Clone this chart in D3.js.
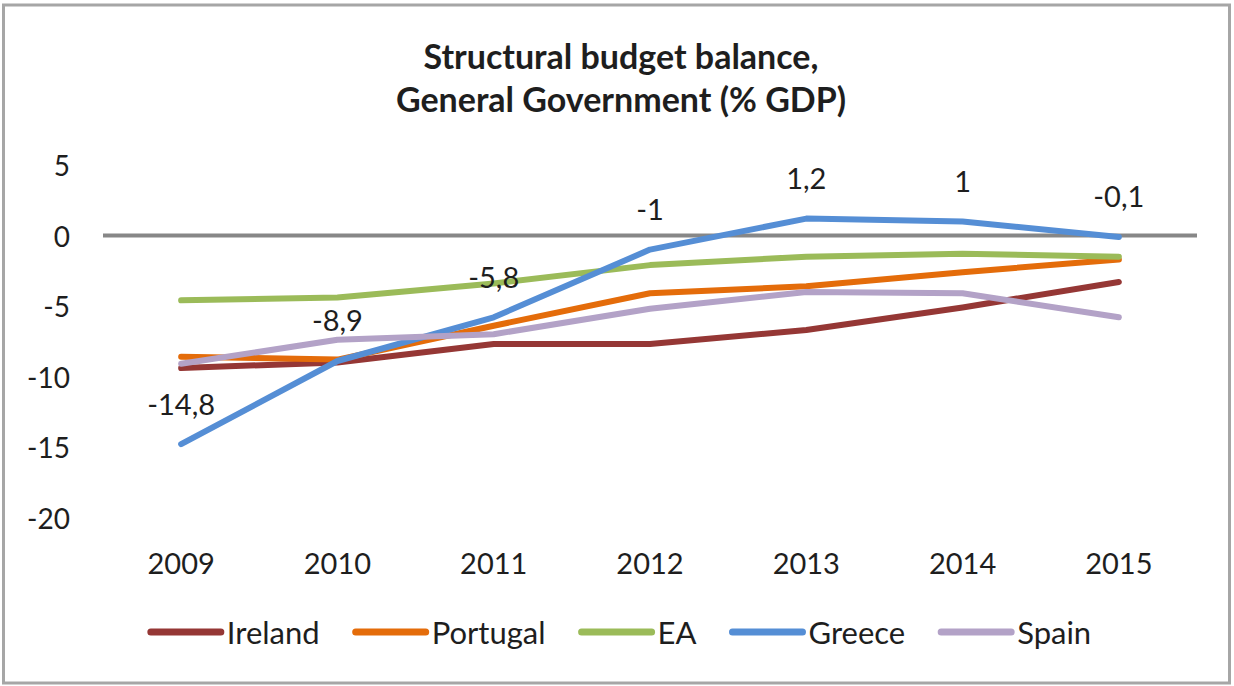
<!DOCTYPE html>
<html>
<head>
<meta charset="utf-8">
<script src="https://cdn.jsdelivr.net/npm/d3@7"></script>
<style>
  html, body { margin: 0; padding: 0; background: #fff; }
  svg { display: block; }
  text { font-family: Lato, "Open Sans", sans-serif; fill: #1e1e1e; }
</style>
</head>
<body>
<svg id="chart" width="1234" height="686"></svg>
<script>
// Structural budget balance, general government (% of GDP)
const years = ["2009", "2010", "2011", "2012", "2013", "2014", "2015"];
const ireland  = [-9.4, -9.0, -7.7, -7.7, -6.7, -5.1, -3.3];
const portugal = [-8.6, -8.8, -6.4, -4.1, -3.6, -2.6, -1.7];
const ea       = [-4.6, -4.4, -3.4, -2.1, -1.5, -1.3, -1.5];
const greece   = [-14.8, -8.9, -5.8, -1, 1.2, 1, -0.1];
const spain    = [-9.1, -7.4, -7.0, -5.2, -4.0, -4.1, -5.8];
const yTicks = [5, 0, -5, -10, -15, -20];

const series = [
  { name: "Ireland",  values: ireland,  color: "#953735" },
  { name: "Portugal", values: portugal, color: "#E46C0A" },
  { name: "EA",       values: ea,       color: "#9BBB59" },
  { name: "Greece",   values: greece,   color: "#558ED5" },
  { name: "Spain",    values: spain,    color: "#B3A2C7" }
];
// Greece values are annotated on the chart
const labelled = "Greece";

const svg = d3.select("#chart");

// outer frame
svg.append("rect")
  .attr("x", 3.5).attr("y", 5).attr("width", 1226).attr("height", 678)
  .attr("fill", "#fff").attr("stroke", "#a6a6a6").attr("stroke-width", 3);

// title
const title = svg.append("text")
  .attr("text-anchor", "middle")
  .style("font-weight", "bold").style("font-size", "34px");
title.append("tspan").attr("x", 621).attr("y", 69).text("Structural budget balance,");
title.append("tspan").attr("x", 621).attr("y", 112).text("General Government (% GDP)");

const x = d3.scaleBand().domain(years).range([103, 1197]);
const y = d3.scaleLinear().domain([-20, 5]).range([517.5, 165]);
const cx = d => x(d) + x.bandwidth() / 2;

// y tick labels
svg.append("g").selectAll("text")
  .data(yTicks).join("text")
  .attr("x", 70).attr("y", d => y(d))
  .attr("text-anchor", "end").attr("dominant-baseline", "central")
  .style("font-size", "28px")
  .text(d => d);

// x tick labels
svg.append("g").selectAll("text")
  .data(years).join("text")
  .attr("x", d => cx(d)).attr("y", 562)
  .attr("text-anchor", "middle").attr("dominant-baseline", "central")
  .style("font-size", "29px")
  .text(d => d);

// horizontal axis at zero
svg.append("line")
  .attr("x1", x.range()[0]).attr("x2", x.range()[1])
  .attr("y1", y(0)).attr("y2", y(0))
  .attr("stroke", "#878787").attr("stroke-width", 4);

const line = d3.line()
  .x((d, i) => cx(years[i]))
  .y(d => y(d));

svg.append("g").selectAll("path")
  .data(series).join("path")
  .attr("d", d => line(d.values))
  .attr("fill", "none")
  .attr("stroke", d => d.color)
  .attr("stroke-width", 6)
  .attr("stroke-linecap", "round")
  .attr("stroke-linejoin", "round");

// value labels
const fmt = v => String(v).replace(".", ",");
const lab = series.find(s => s.name === labelled);
svg.append("g").selectAll("text")
  .data(lab.values).join("text")
  .attr("x", (d, i) => cx(years[i]))
  .attr("y", d => y(d) - 41)
  .attr("text-anchor", "middle").attr("dominant-baseline", "central")
  .style("font-size", "29px")
  .text(d => fmt(d));

// legend
const legend = svg.append("g");
const items = legend.selectAll("g").data(series).join("g");
items.append("line")
  .attr("x1", 0).attr("x2", 70).attr("y1", 0).attr("y2", 0)
  .attr("stroke", d => d.color).attr("stroke-width", 7)
  .attr("stroke-linecap", "round");
items.append("text")
  .attr("x", 76).attr("y", 0)
  .attr("dominant-baseline", "central")
  .style("font-size", "31px")
  .text(d => d.name);
const gap = 36;
let offset = 0;
items.each(function() {
  const g = d3.select(this);
  g.attr("transform", `translate(${offset},0)`);
  offset += 76 + g.select("text").node().getComputedTextLength() + gap;
});
const total = offset - gap;
legend.attr("transform", `translate(${621 - total / 2},632)`);
</script>
</body>
</html>
